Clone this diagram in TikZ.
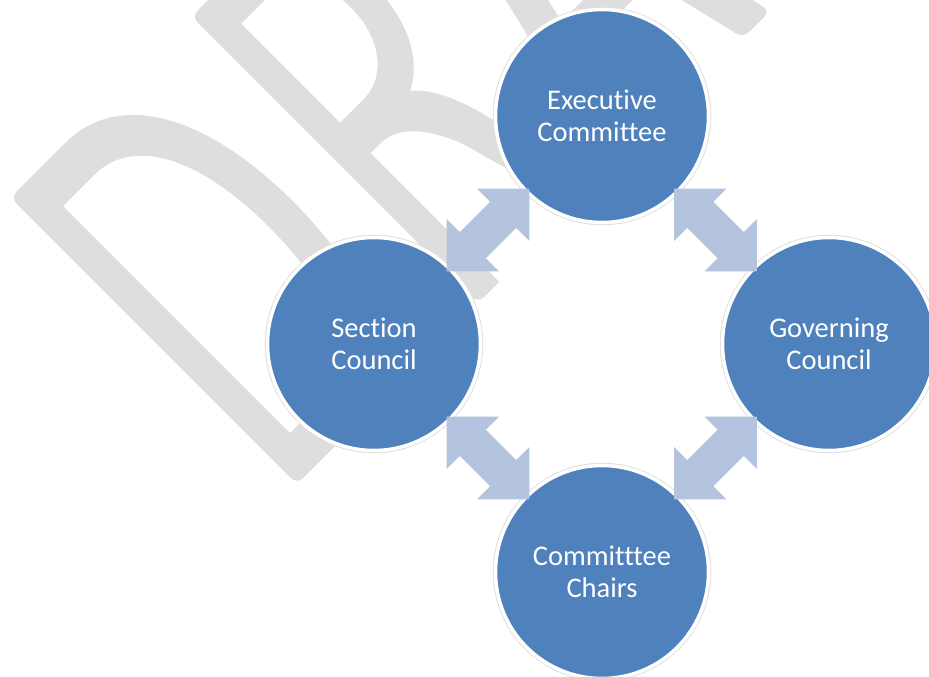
\documentclass[tikz,border=0pt]{standalone}
\usepackage{fontspec}
\setmainfont{Carlito}[RawFeature={-liga;-clig;-calt}]
\usetikzlibrary{calc}

\definecolor{councilblue}{RGB}{79,129,189}
\definecolor{linkblue}{RGB}{180,196,222}
\definecolor{wmgrey}{RGB}{222,222,222}

\tikzset{
	pics/link/.style={code={
		\fill[linkblue] (-58.5,0) -- (-21.5,37) -- (-21.5,18.5) -- (21.5,18.5) -- (21.5,37)
			-- (58.5,0) -- (21.5,-37) -- (21.5,-18.5) -- (-21.5,-18.5) -- (-21.5,-37) -- cycle;
	}}
}

\begin{document}
\begin{tikzpicture}[x=1pt,y=-1pt,
		council/.style={circle,fill=councilblue,draw=white,line width=3.5pt,
			preaction={draw=black!12,line width=5.5pt},
			minimum size=213pt,inner sep=0pt,text=white,align=center,
			font=\fontsize{28.5}{32}\selectfont}]
		\useasboundingbox (0,0) rectangle (929,677);
		\clip (0,0) rectangle (929,677);
		\fill[white] (0,0) rectangle (929,677);
		
		% watermark letters, baseline running up to the right
		\begin{scope}[shift={(297,484)},rotate=45,yscale=-1,wmgrey]
		\fill[even odd rule] (70,0) [rounded corners=8pt] -- (0,0) -- (0,405) -- (70,405) [sharp corners]
			.. controls (150,405) and (197,330) .. (197,202)
			.. controls (197,75) and (150,0) .. (70,0) -- cycle
			(31,41) -- (31,362) -- (75,362)
			.. controls (130,362) and (162,300) .. (162,202)
			.. controls (162,100) and (130,41) .. (75,41) -- cycle;
		\fill[even odd rule] (286,0) [rounded corners=8pt] -- (256,0) -- (256,405) -- (325,405) [sharp corners]
			.. controls (385,405) and (407,365) .. (407,300)
			.. controls (407,250) and (388,213) .. (358,198)
			.. controls (380,180) and (392,140) .. (398,110)
			[rounded corners=8pt] -- (433,0) -- (392,0) -- (363,105) [sharp corners]
			.. controls (352,145) and (330,182) .. (300,182) -- (286,182) -- cycle
			(286,225) -- (286,365) -- (325,365)
			.. controls (360,365) and (375,335) .. (375,298)
			.. controls (375,255) and (350,225) .. (320,225) -- cycle;
		\fill[even odd rule,rounded corners=8pt] (444,0) -- (539,405) -- (574,405) -- (669,0)
			-- (631,0) -- (606,105) -- (506,105) -- (481,0) -- cycle
			[sharp corners] (514,140) -- (598,140) -- (556,319) -- cycle;
		\end{scope}
		
		\node[council] (exe) at (602,116) {Executive\\Committee};
		\node[council] (sec) at (374,344) {Section\\Council};
		\node[council] (gov) at (829,344) {Governing\\Council};
		\node[council] (chr) at (602,572) {Committtee\\Chairs};
		
		\pic[rotate=45]  at ($(sec)!0.5!(exe)$) {link};
		\pic[rotate=-45] at ($(exe)!0.5!(gov)$) {link};
		\pic[rotate=-45] at ($(sec)!0.5!(chr)$) {link};
		\pic[rotate=45]  at ($(chr)!0.5!(gov)$) {link};
\end{tikzpicture}
\end{document}
